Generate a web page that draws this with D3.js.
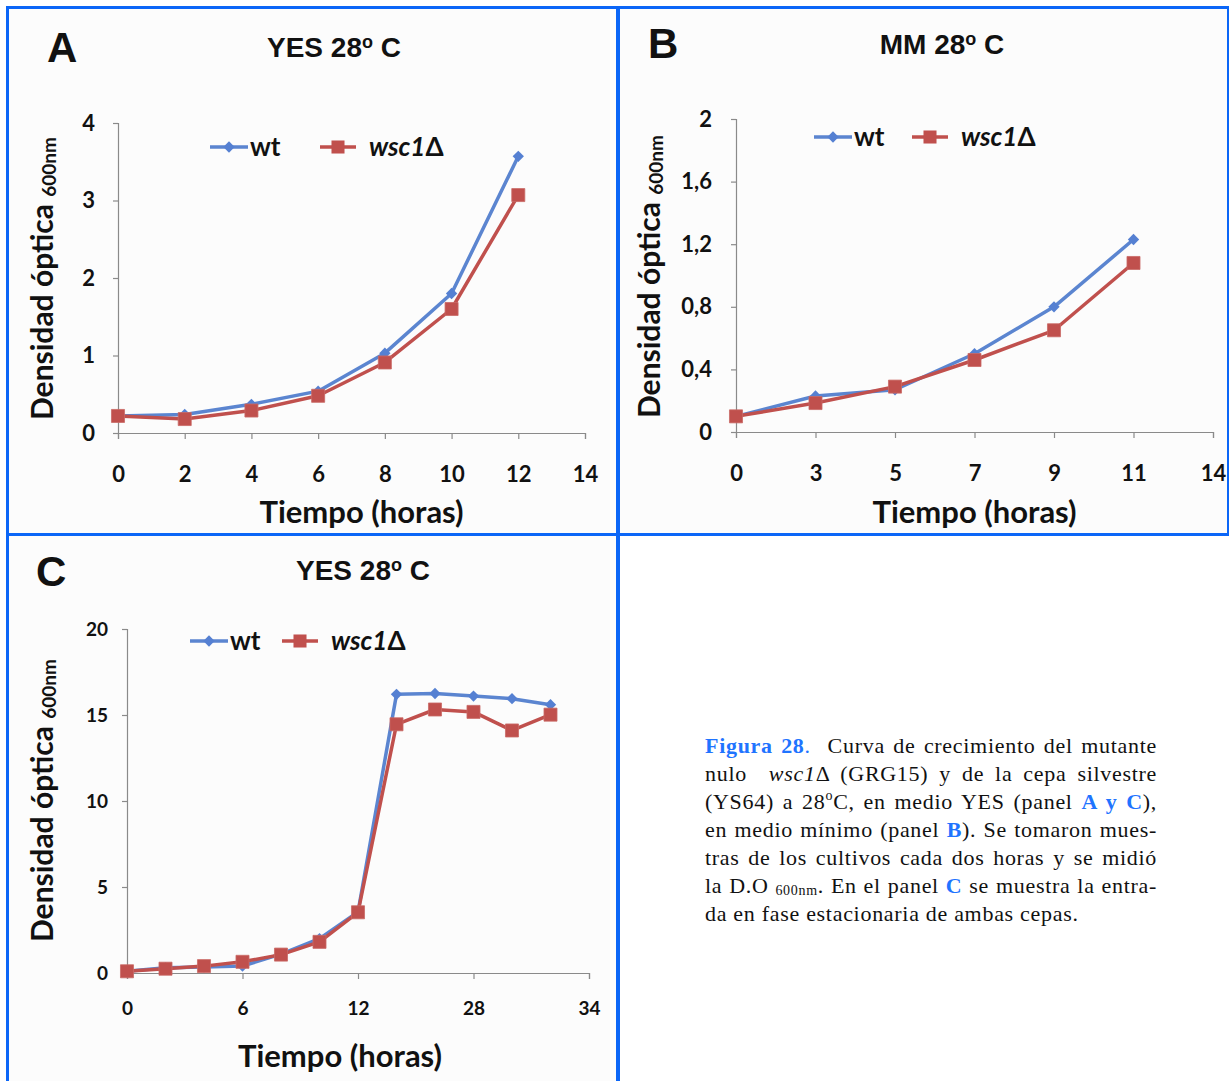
<!DOCTYPE html>
<html>
<head>
<meta charset="utf-8">
<script src="https://cdn.jsdelivr.net/npm/d3@7"></script>
<style>
  body { margin: 0; background: #fff; }
  #wrap { position: relative; width: 1229px; height: 1081px; overflow: hidden; }
  svg { position: absolute; left: 0; top: 0; }
  .cap { position: absolute; left: 705px; width: 452px; font-family: "Liberation Serif", "Times New Roman", serif;
         font-size: 22px; letter-spacing: 0.7px; line-height: 28px; color: #111; white-space: nowrap; }
  .cap.j { text-align: justify; text-align-last: justify; white-space: normal; }
  .cap .hl { color: #1f74ff; font-weight: bold; }
  .cap sub { font-size: 14px; vertical-align: -2px; line-height: 0; }
  .cap sup { font-size: 14px; vertical-align: 9px; line-height: 0; }
</style>
</head>
<body>
<div id="wrap"></div>
<script>
// panel A - YES 28º C
const hoursA = ["0", "2", "4", "6", "8", "10", "12", "14"];
const wtA = [0.22, 0.24, 0.37, 0.54, 1.03, 1.80, 3.57];
const mutA = [0.22, 0.18, 0.29, 0.48, 0.91, 1.60, 3.07];
const yTicksA = [0, 1, 2, 3, 4];

// panel B - MM 28º C
const hoursB = ["0", "3", "5", "7", "9", "11", "14"];
const wtB = [0.10, 0.23, 0.27, 0.50, 0.80, 1.23];
const mutB = [0.10, 0.185, 0.29, 0.46, 0.65, 1.08];
const yTicksB = [0, 0.4, 0.8, 1.2, 1.6, 2];

// panel C - YES 28º C, fase estacionaria
const hoursC = ["0", "2", "4", "6", "8", "10", "12", "24", "26", "28", "30", "32", "34"];
const labelsC = ["0", "6", "12", "28", "34"];
const wtC = [0.1, 0.3, 0.35, 0.4, 1.1, 2.0, 3.55, 16.2, 16.25, 16.1, 15.95, 15.6];
const mutC = [0.1, 0.25, 0.4, 0.65, 1.07, 1.81, 3.53, 14.46, 15.32, 15.18, 14.1, 15.02];
const yTicksC = [0, 5, 10, 15, 20];

const BLUE = '#5b85d0';
const RED = '#c0504d';
const EDGE = '#0b66f7';
const FONT = 'Lato, "Open Sans", sans-serif';
const NARROW = '"Liberation Sans Narrow", "Liberation Sans", Arial, sans-serif';

const comma = d3.formatLocale({ decimal: ',', thousands: '.', grouping: [3], currency: ['', ''] }).format('~g');

const svg = d3.select('#wrap').append('svg').attr('width', 1229).attr('height', 1081);

// panel backgrounds and blue frame
svg.append('rect').attr('x', 9).attr('y', 9).attr('width', 607).attr('height', 524).attr('fill', '#fcfcfc');
svg.append('rect').attr('x', 620).attr('y', 9).attr('width', 608).attr('height', 524).attr('fill', '#fcfcfc');
svg.append('rect').attr('x', 9).attr('y', 536).attr('width', 607).attr('height', 545).attr('fill', '#fcfcfc');
const frame = svg.append('g').attr('fill', EDGE);
frame.append('rect').attr('x', 6).attr('y', 6).attr('width', 1223).attr('height', 3);
frame.append('rect').attr('x', 6).attr('y', 6).attr('width', 3).attr('height', 1075);
frame.append('rect').attr('x', 616).attr('y', 6).attr('width', 4).attr('height', 1075);
frame.append('rect').attr('x', 6).attr('y', 533).attr('width', 1223).attr('height', 3);
frame.append('rect').attr('x', 1227).attr('y', 6).attr('width', 2).attr('height', 530);

const diamond = d3.symbol(d3.symbolSquare, 64);
const square = d3.symbol(d3.symbolSquare, 170);

function drawPanel(cfg) {
  const g = svg.append('g');
  const x = d3.scalePoint().domain(cfg.hours).range([cfg.x0, cfg.x1]);
  const y = d3.scaleLinear().domain([0, cfg.yTicks[cfg.yTicks.length - 1]]).range([cfg.y0, cfg.y1]);

  // panel letter + title
  g.append('text').attr('x', cfg.letter[0]).attr('y', cfg.letter[1])
    .attr('font-family', '"Liberation Sans", Arial, sans-serif').attr('font-weight', 'bold')
    .attr('font-size', 42).attr('fill', '#111').text(cfg.name);
  const title = g.append('text').attr('x', cfg.title[0]).attr('y', cfg.title[1])
    .attr('text-anchor', 'middle').attr('font-family', NARROW).attr('font-weight', 'bold')
    .attr('font-size', 28).attr('fill', '#111');
  title.append('tspan').text(cfg.medium + ' 28');
  title.append('tspan').attr('font-size', 18).attr('dy', -9).text('o');
  title.append('tspan').attr('dy', 9).text(' C');

  // axes
  const xAxis = d3.axisBottom(x).tickValues(cfg.xLabels).tickSize(6).tickPadding(cfg.xPad);
  const gx = g.append('g').attr('transform', `translate(0,${cfg.y0})`).call(xAxis);
  const yAxis = d3.axisLeft(y).tickValues(cfg.yTicks).tickSize(5).tickPadding(cfg.yPad)
    .tickFormat(cfg.fmt);
  const gy = g.append('g').attr('transform', `translate(${cfg.x0},0)`).call(yAxis);
  [gx, gy].forEach((a) => {
    a.select('.domain').attr('stroke', '#8a8a8a').attr('stroke-width', 1.2);
    a.selectAll('.tick line').attr('stroke', '#8a8a8a').attr('stroke-width', 1.2);
    a.selectAll('.tick text').attr('font-family', FONT).attr('font-weight', 'bold')
      .attr('font-size', cfg.tickSize).attr('fill', '#111');
  });

  // axis titles
  g.append('text').attr('x', (cfg.x0 + cfg.x1) / 2 + cfg.xTitleShift).attr('y', cfg.xTitleY)
    .attr('text-anchor', 'middle').attr('font-family', FONT).attr('font-weight', 'bold')
    .attr('font-size', 31).attr('fill', '#111').text('Tiempo (horas)');
  const yt = g.append('text').attr('transform', `translate(${cfg.yTitle[0]},${cfg.yTitle[1]}) rotate(-90)`)
    .attr('font-family', FONT).attr('font-weight', 'bold').attr('font-size', 30).attr('fill', '#111');
  yt.append('tspan').text('Densidad óptica ');
  yt.append('tspan').attr('font-size', 19).attr('dy', 3).text('600nm');

  // series
  const line = d3.line().x((d, i) => x(cfg.hours[i])).y((d) => y(d));
  g.append('path').datum(cfg.wt).attr('d', line).attr('fill', 'none')
    .attr('stroke', BLUE).attr('stroke-width', 3.5).attr('stroke-linejoin', 'round');
  g.selectAll('.wt').data(cfg.wt).join('path').attr('class', 'wt').attr('d', diamond)
    .attr('fill', '#5580d2')
    .attr('transform', (d, i) => `translate(${x(cfg.hours[i])},${y(d)}) rotate(45)`);
  g.append('path').datum(cfg.mut).attr('d', line).attr('fill', 'none')
    .attr('stroke', RED).attr('stroke-width', 3.5).attr('stroke-linejoin', 'round');
  g.selectAll('.mut').data(cfg.mut).join('path').attr('class', 'mut').attr('d', square)
    .attr('fill', RED).attr('stroke', '#c96a66').attr('stroke-width', 0.8)
    .attr('transform', (d, i) => `translate(${x(cfg.hours[i])},${y(d)})`);

  // legend
  const [lx, ly, gap] = cfg.legend;
  const lg = g.append('g').attr('transform', `translate(${lx},${ly})`);
  lg.append('line').attr('x1', 0).attr('x2', 38).attr('stroke', BLUE).attr('stroke-width', 3.5);
  lg.append('path').attr('d', diamond).attr('fill', '#5580d2').attr('transform', 'translate(19,0) rotate(45)');
  lg.append('text').attr('x', 40).attr('y', 9).attr('font-family', FONT).attr('font-weight', 'bold')
    .attr('font-size', 26).attr('fill', '#111').text('wt');
  lg.append('line').attr('x1', gap).attr('x2', gap + 36).attr('stroke', RED).attr('stroke-width', 3.5);
  lg.append('path').attr('d', square).attr('fill', RED).attr('transform', `translate(${gap + 18},0)`);
  const mt = lg.append('text').attr('x', gap + 49).attr('y', 9).attr('font-family', FONT)
    .attr('font-weight', 'bold').attr('font-size', 26).attr('fill', '#111');
  mt.append('tspan').attr('font-style', 'italic').text('wsc1');
  mt.append('tspan').text('Δ');
}

drawPanel({
  name: 'A', medium: 'YES', letter: [47, 62], title: [334, 57],
  hours: hoursA, xLabels: hoursA, wt: wtA, mut: mutA, yTicks: yTicksA, fmt: d3.format('d'),
  x0: 118, x1: 585, y0: 433, y1: 123, xPad: 27, yPad: 18, tickSize: 22,
  xTitleY: 523, xTitleShift: 10, yTitle: [53, 420], legend: [210, 147, 110],
});

drawPanel({
  name: 'B', medium: 'MM', letter: [648, 58], title: [942, 54],
  hours: hoursB, xLabels: hoursB, wt: wtB, mut: mutB, yTicks: yTicksB, fmt: comma,
  x0: 736, x1: 1213, y0: 432, y1: 119, xPad: 27, yPad: 19, tickSize: 22,
  xTitleY: 523, xTitleShift: 0, yTitle: [660, 418], legend: [814, 137, 98],
});

drawPanel({
  name: 'C', medium: 'YES', letter: [36, 586], title: [363, 580],
  hours: hoursC, xLabels: labelsC, wt: wtC, mut: mutC, yTicks: yTicksC, fmt: d3.format('d'),
  x0: 127, x1: 589, y0: 973, y1: 629, xPad: 23, yPad: 14, tickSize: 19,
  xTitleY: 1067, xTitleShift: -18, yTitle: [53, 942], legend: [190, 641, 92],
});

// caption
const captionLines = [
  '<span class="hl">Figura 28</span><span style="color:#1f74ff">.</span>&nbsp; Curva de crecimiento del mutante',
  'nulo &nbsp;<i>wsc1</i>Δ (GRG15) y de la cepa silvestre',
  '(YS64) a 28<sup>o</sup>C, en medio YES (panel <span class="hl">A y C</span>),',
  'en medio mínimo (panel <span class="hl">B</span>). Se tomaron mues-',
  'tras de los cultivos cada dos horas y se midió',
  'la D.O <sub>600nm</sub>. En el panel <span class="hl">C</span> se muestra la entra-',
  'da en fase estacionaria de ambas cepas.',
];
d3.select('#wrap').selectAll('div.cap').data(captionLines).join('div')
  .attr('class', (d, i) => (i < captionLines.length - 1 ? 'cap j' : 'cap'))
  .style('top', (d, i) => `${732 + i * 28}px`)
  .html((d) => d);
</script>
</body>
</html>
